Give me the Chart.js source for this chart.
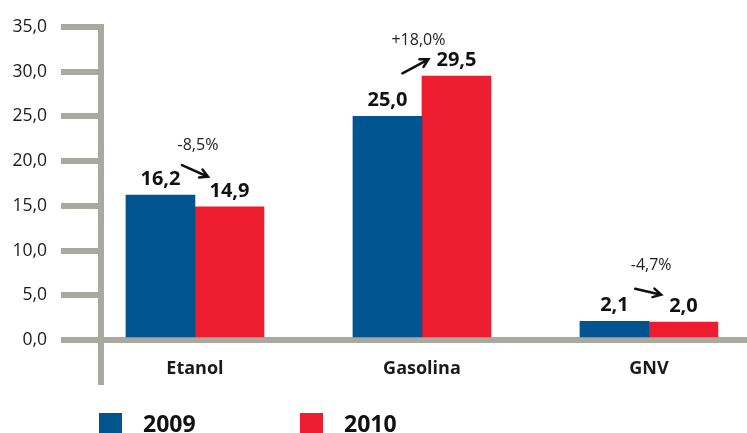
<!DOCTYPE html>
<html>
<head>
<meta charset="utf-8">
<script src="https://cdn.jsdelivr.net/npm/chart.js@4.4.1/dist/chart.umd.min.js"></script>
<style>
  html, body { margin: 0; padding: 0; background: #fff; }
</style>
</head>
<body>
<canvas id="fuelChart" width="747" height="433"></canvas>
<script>
// Consumo por combustível, 2009 x 2010
const categories = ["Etanol", "Gasolina", "GNV"];
const years = ["2009", "2010"];
const values2009 = [16.2, 25.0, 2.1];
const values2010 = [14.9, 29.5, 2.0];
const changes = ["-8,5%", "+18,0%", "-4,7%"];
const yTicks = [0, 5, 10, 15, 20, 25, 30, 35];

const blue = "#00548f";
const red = "#ed1c2e";
const grey = "#a9a9a0";
const ink = "#1a1a1a";
const fontFamily = "'Open Sans', sans-serif";
const valueFont = "bold 20px " + fontFamily;

// x runs on a linear scale so the three groups sit 227px apart
const xMin = -0.414;
const xMax = 2.432;

const fmt = v => v.toFixed(1).replace(".", ",");

// bold value above each bar
const valueLabels = {
    id: "valueLabels",
    afterDatasetsDraw(chart) {
        const ctx = chart.ctx;
        ctx.save();
        ctx.font = valueFont;
        ctx.fillStyle = "#111";
        ctx.textAlign = "center";
        ctx.textBaseline = "alphabetic";
        chart.data.datasets.forEach((ds, di) => {
            chart.getDatasetMeta(di).data.forEach((bar, i) => {
                ctx.fillText(fmt(ds.data[i].y), bar.x, bar.y - 10);
            });
        });
        ctx.restore();
    }
};

// percent change with an arrow from the 2009 bar to the 2010 bar
const changeArrows = {
    id: "changeArrows",
    afterDatasetsDraw(chart) {
        const ctx = chart.ctx;
        const a = chart.getDatasetMeta(0).data;
        const b = chart.getDatasetMeta(1).data;
        ctx.save();
        categories.forEach((c, i) => {
            const cx = (a[i].x + b[i].x) / 2;
            const midY = (a[i].y + b[i].y) / 2 - 30;
            const diff = b[i].y - a[i].y;
            const h = Math.sign(diff || 1) * Math.max(3, Math.min(7, Math.abs(diff) / 2));

            // rising or flat arrows stop short of the 2010 value label
            let x2 = cx + 13;
            if (h <= 3) {
                ctx.font = valueFont;
                const labelLeft = b[i].x - ctx.measureText(fmt(values2010[i])).width / 2;
                x2 = Math.min(x2, labelLeft - 8);
            }
            const x1 = x2 - 26;
            const y1 = midY - h, y2 = midY + h;

            ctx.strokeStyle = "#111";
            ctx.lineWidth = 2.5;
            ctx.lineCap = "round";
            ctx.beginPath();
            ctx.moveTo(x1, y1);
            ctx.lineTo(x2, y2);
            const ang = Math.atan2(y2 - y1, x2 - x1);
            const head = 9;
            ctx.moveTo(x2 - head * Math.cos(ang - 0.5), y2 - head * Math.sin(ang - 0.5));
            ctx.lineTo(x2, y2);
            ctx.lineTo(x2 - head * Math.cos(ang + 0.5), y2 - head * Math.sin(ang + 0.5));
            ctx.stroke();

            ctx.font = "16px " + fontFamily;
            ctx.fillStyle = "#222";
            ctx.textAlign = "center";
            ctx.textBaseline = "middle";
            ctx.fillText(changes[i], (x1 + x2) / 2 + 3, midY - 26);
        });
        ctx.restore();
    }
};

// square legend along the bottom edge
const bottomLegend = {
    id: "bottomLegend",
    afterDraw(chart) {
        const ctx = chart.ctx;
        const left = chart.chartArea.left - 2;
        ctx.save();
        ctx.font = "bold 23px " + fontFamily;
        ctx.textAlign = "left";
        ctx.textBaseline = "alphabetic";
        chart.data.datasets.forEach((ds, i) => {
            const x = left + i * 201;
            ctx.fillStyle = ds.backgroundColor;
            ctx.fillRect(x, 413, 23, 23);
            ctx.fillStyle = "#111";
            ctx.fillText(ds.label, x + 44, 432);
        });
        ctx.restore();
    }
};

Chart.defaults.font.family = fontFamily;

new Chart(document.getElementById("fuelChart").getContext("2d"), {
    type: "bar",
    data: {
        datasets: [
            {
                label: years[0],
                data: values2009.map((v, i) => ({ x: i, y: v })),
                backgroundColor: blue
            },
            {
                label: years[1],
                data: values2010.map((v, i) => ({ x: i, y: v })),
                backgroundColor: red
            }
        ]
    },
    options: {
        responsive: false,
        animation: false,
        barThickness: 69,
        layout: { padding: { top: 27, right: 0, bottom: 48, left: 0 } },
        plugins: {
            legend: { display: false },
            tooltip: { enabled: false }
        },
        scales: {
            x: {
                type: "linear",
                min: xMin,
                max: xMax,
                offset: false,
                z: 1,
                afterBuildTicks: s => {
                    s.ticks = [{ value: xMin }].concat(categories.map((c, i) => ({ value: i })));
                },
                afterFit: s => { s.height = 45; },
                grid: {
                    offset: false,
                    drawOnChartArea: false,
                    tickLength: 45,
                    lineWidth: 6,
                    color: c => (c.tick && c.tick.value === xMin ? grey : "rgba(0,0,0,0)")
                },
                border: { display: true, color: grey, width: 6 },
                ticks: {
                    autoSkip: false,
                    maxRotation: 0,
                    padding: -27,
                    color: ink,
                    font: { size: 18, weight: "bold" },
                    callback: v => (Number.isInteger(v) ? categories[v] : "")
                }
            },
            y: {
                min: 0,
                max: 35,
                z: 1,
                afterBuildTicks: s => { s.ticks = yTicks.map(v => ({ value: v })); },
                afterFit: s => { s.width = 101; },
                grid: {
                    drawOnChartArea: false,
                    tickLength: 40,
                    lineWidth: 6,
                    color: grey
                },
                border: { display: true, color: grey, width: 6 },
                ticks: {
                    padding: 14,
                    color: ink,
                    font: { size: 17.5 },
                    callback: v => fmt(v)
                }
            }
        }
    },
    plugins: [valueLabels, changeArrows, bottomLegend]
});
</script>
</body>
</html>
